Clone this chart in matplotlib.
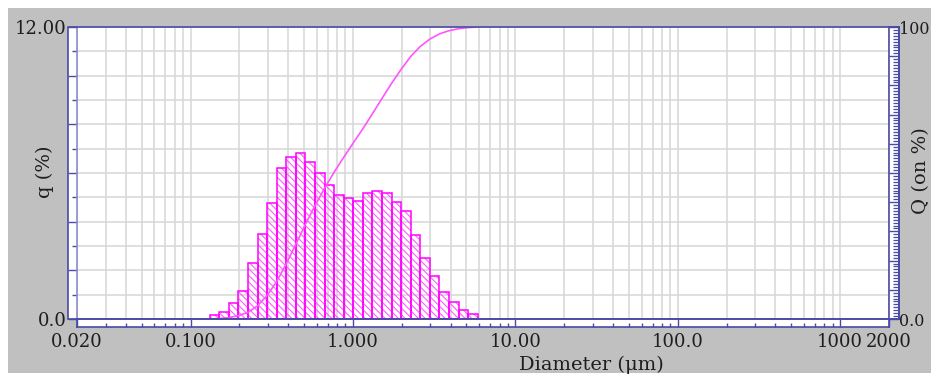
import numpy as np
import matplotlib
matplotlib.use("Agg")
import matplotlib.pyplot as plt
from matplotlib.patches import Rectangle
from matplotlib.ticker import (LogLocator, MultipleLocator, FixedLocator,
                               FuncFormatter, NullFormatter)

# size class boundaries (um) and frequency per class (%)
edges = [0.131, 0.150, 0.172, 0.197, 0.226, 0.259, 0.296, 0.339, 0.389,
         0.445, 0.510, 0.584, 0.669, 0.766, 0.877, 1.005, 1.151, 1.318,
         1.510, 1.729, 1.981, 2.269, 2.599, 2.976, 3.409, 3.905, 4.472,
         5.122, 5.867]
q_pct = [0.16, 0.30, 0.67, 1.16, 2.29, 3.49, 4.75, 6.22, 6.67, 6.84,
         6.44, 5.99, 5.51, 5.10, 4.96, 4.86, 5.17, 5.27, 5.19, 4.82,
         4.44, 3.45, 2.52, 1.77, 1.12, 0.69, 0.37, 0.21]

x_ticks = [0.02, 0.1, 1, 10, 100, 1000, 2000]
x_labels = ["0.020", "0.100", "1.000", "10.00", "100.0", "1000", "2000"]

# undersize curve from the class frequencies
Q = np.concatenate([[0.0], np.cumsum(q_pct)])
Q = Q / Q[-1] * 100.0

W, H = 931, 376
BLUE = "#4a4aa8"
LBLUE = "#8c8cd0"
MAG = "#ff00ff"
TXT = "#1e1e1e"
plt.rcParams["font.family"] = "DejaVu Serif"
plt.rcParams["hatch.linewidth"] = 0.8


def box(x0, y0, x1, y1):
    # pixel box (top-left origin) -> figure fraction rect
    return [x0 / W, 1 - y1 / H, (x1 - x0) / W, (y1 - y0) / H]


fig = plt.figure(figsize=(W / 100, H / 100), dpi=100, facecolor="white")

bg = box(8, 8, W, 373)
fig.add_artist(Rectangle(bg[:2], bg[2], bg[3], transform=fig.transFigure,
                         facecolor="#c0c0c0", edgecolor="none", zorder=-3))
fr = box(68, 27, 899, 319)
fig.add_artist(Rectangle(fr[:2], fr[2], fr[3], transform=fig.transFigure,
                         facecolor="white", edgecolor="none", zorder=-2))

# main histogram axes
ax = fig.add_axes(box(77, 27, 889, 319))
ax.set_xscale("log")
ax.set_xlim(0.02, 2000)
ax.set_ylim(0, 12)
ax.xaxis.set_major_locator(LogLocator(base=10, numticks=20))
ax.xaxis.set_minor_locator(LogLocator(base=10, subs=np.arange(2, 10), numticks=20))
ax.xaxis.set_major_formatter(NullFormatter())
ax.xaxis.set_minor_formatter(NullFormatter())
ax.tick_params(axis="x", which="both", length=0)
ax.yaxis.set_major_locator(MultipleLocator(2))
ax.yaxis.set_minor_locator(MultipleLocator(1))
ax.yaxis.set_major_formatter(FuncFormatter(
    lambda v, p: {0: "0.0", 12: "12.00"}.get(int(round(v)), "")))
ax.tick_params(axis="y", which="major", direction="out", length=6.5,
               width=1, color=BLUE, pad=0.8, labelsize=13, labelcolor=TXT)
ax.tick_params(axis="y", which="minor", direction="out", length=3.6,
               width=1, color=BLUE)
ax.grid(which="both", color="#d6d6d6", linewidth=1.1)
ax.set_axisbelow(True)
for s in ("top", "right", "bottom"):
    ax.spines[s].set_visible(False)
ax.spines["left"].set_color(LBLUE)
ax.spines["left"].set_linewidth(1.2)

# hatching in a lighter pink, outlines in full magenta
ax.bar(edges[:-1], q_pct, width=np.diff(edges), align="edge", fill=False,
       edgecolor="#ff5cff", linewidth=0, hatch="\\\\\\\\\\", zorder=2)
ax.bar(edges[:-1], q_pct, width=np.diff(edges), align="edge", fill=False,
       edgecolor=MAG, linewidth=1.1, zorder=2.1)

# cumulative curve on the Q scale
axc = ax.twinx()
axc.set_ylim(0, 100)
axc.plot(edges, Q, color="#ff55ff", linewidth=1.2)
axc.set_yticks([])
for s in axc.spines.values():
    s.set_visible(False)

# diameter scale strip under the plot
axx = fig.add_axes(box(77, 319, 889, 327))
axx.set_xscale("log")
axx.set_xlim(0.02, 2000)
axx.set_ylim(0, 1)
axx.set_yticks([])
axx.xaxis.set_major_locator(FixedLocator(x_ticks))
axx.set_xticklabels(x_labels)
axx.xaxis.set_minor_locator(LogLocator(base=10, subs=np.arange(2, 10), numticks=20))
axx.xaxis.set_minor_formatter(NullFormatter())
axx.tick_params(axis="x", which="major", direction="in", length=5.8, width=1,
                color=BLUE, pad=4, labelsize=13, labelcolor=TXT)
axx.tick_params(axis="x", which="minor", direction="in", length=2.6, width=1,
                color=BLUE)
for s in axx.spines.values():
    s.set_color(BLUE)
    s.set_linewidth(1.2)

# cumulative scale strip on the right
axq = fig.add_axes(box(889, 27, 899, 319))
axq.set_ylim(0, 100)
axq.set_xticks([])
axq.yaxis.tick_right()
axq.yaxis.set_major_locator(MultipleLocator(10))
axq.yaxis.set_minor_locator(MultipleLocator(1))
axq.yaxis.set_major_formatter(FuncFormatter(
    lambda v, p: {0: "0.0", 100: "100"}.get(int(round(v)), "")))
axq.tick_params(axis="y", which="major", direction="in", length=7.2, width=1,
                color=BLUE, pad=0.3, labelsize=11.5, labelcolor=TXT)
axq.tick_params(axis="y", which="minor", direction="in", length=4.5, width=0.9,
                color=BLUE)
for s in axq.spines.values():
    s.set_color(BLUE)
    s.set_linewidth(1.2)

# outer frame
fig.add_artist(Rectangle(fr[:2], fr[2], fr[3], transform=fig.transFigure,
                         facecolor="none", edgecolor=BLUE, linewidth=1.2,
                         zorder=5))

fig.text(45 / W, 1 - 172 / H, "q (%)", rotation=90, ha="center", va="center",
         fontsize=14, color=TXT)
fig.text(921 / W, 1 - 171 / H, "Q (on %)", rotation=90, ha="center",
         va="center", fontsize=14, color=TXT)
fig.text(591 / W, 1 - 365 / H, "Diameter (\u03bcm)", ha="center", va="center",
         fontsize=14, color=TXT)

fig.savefig("out.png", dpi=100, facecolor="white")
